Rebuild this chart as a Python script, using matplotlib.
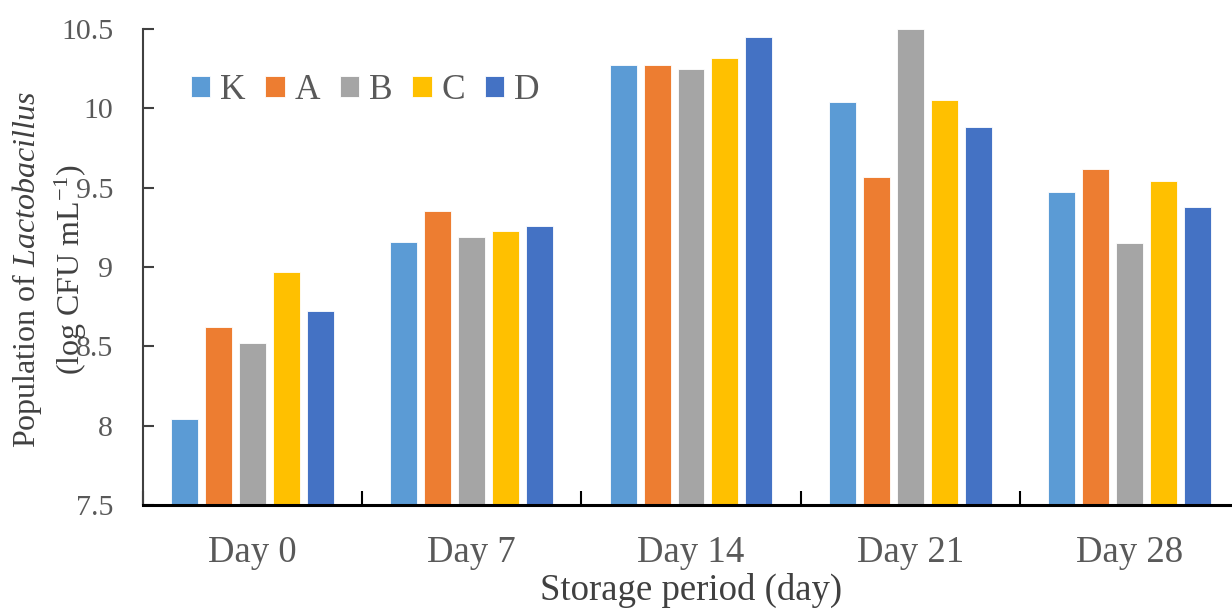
import matplotlib
matplotlib.use("Agg")
import matplotlib.pyplot as plt
import numpy as np

categories = ["Day 0", "Day 7", "Day 14", "Day 21", "Day 28"]
series_names = ["K", "A", "B", "C", "D"]
K = [8.04, 9.16, 10.27, 10.04, 9.47]
A = [8.62, 9.35, 10.27, 9.57, 9.62]
B = [8.52, 9.19, 10.25, 10.50, 9.15]
C = [8.97, 9.23, 10.32, 10.05, 9.54]
D = [8.72, 9.26, 10.45, 9.88, 9.38]
colors = ["#5B9BD5", "#ED7D31", "#A5A5A5", "#FFC000", "#4472C4"]
yticks = [7.5, 8, 8.5, 9, 9.5, 10, 10.5]
ytick_labels = ["7.5", "8", "8.5", "9", "9.5", "10", "10.5"]

plt.rcParams['font.family'] = ['Liberation Serif', 'DejaVu Serif']
plt.rcParams['mathtext.fontset'] = 'custom'
plt.rcParams['mathtext.rm'] = 'Liberation Serif'
plt.rcParams['mathtext.it'] = 'Liberation Serif:italic'

fig = plt.figure(figsize=(12.32, 6.10), dpi=100)
ax = fig.add_axes([143/1232, 105/610, 1096/1232, 476/610])

data = [K, A, B, C, D]
x = np.arange(len(categories))
width = 0.123
step = 0.155
for i, (name, vals) in enumerate(zip(series_names, data)):
    ax.bar(x + (i - 2) * step, vals, width, bottom=0, color=colors[i],
           label=name, edgecolor='white', linewidth=0.6, zorder=2)

ax.set_ylim(7.5, 10.5)
ax.set_xlim(-0.5, len(categories) - 0.5)
ax.set_yticks(yticks)
ax.set_yticklabels(ytick_labels)

ax.set_xticks(np.arange(len(categories) + 1) - 0.5)
ax.set_xticklabels([])
ax.set_xticks(x, minor=True)
ax.set_xticklabels(categories, minor=True)
ax.tick_params(axis='x', which='major', direction='in', length=10, width=1.5, color='black')
ax.tick_params(axis='x', which='minor', length=0, pad=22, labelsize=26.5, labelcolor='#595959')
ax.tick_params(axis='y', direction='in', length=8, width=1.5, color='#404040',
               pad=21.6, labelsize=21.5, labelcolor='#595959')

for s in ['top', 'right']:
    ax.spines[s].set_visible(False)
ax.spines['left'].set_color('#404040')
ax.spines['left'].set_linewidth(1.5)
ax.spines['bottom'].set_color('black')
ax.spines['bottom'].set_linewidth(2.2)

ax.set_xlabel("Storage period (day)", fontsize=26.5, color='#404040', labelpad=2)

fig.text(27/1232, 1 - 270/610, "Population of $\\mathit{Lactobacillus}$",
         rotation=90, ha='center', va='center', fontsize=23, color='#404040')
fig.text(71/1232, 1 - 270/610, "(log CFU mL$^{\\mathregular{-1}}$)",
         rotation=90, ha='center', va='center', fontsize=23, color='#404040')

leg = ax.legend(ncol=5, loc='upper left', bbox_to_anchor=(48/1096, 1 - 45/476),
                frameon=False, fontsize=25.5, handlelength=0.55, handleheight=0.55,
                handletextpad=0.28, columnspacing=0.55, borderaxespad=0, borderpad=0)
for t in leg.get_texts():
    t.set_color('#595959')

fig.savefig("out.png", dpi=100)
